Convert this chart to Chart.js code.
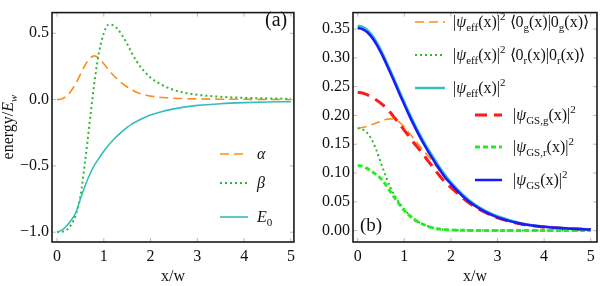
<!DOCTYPE html>
<html>
<head>
<meta charset="utf-8">
<script src="https://cdn.jsdelivr.net/npm/chart.js@4.4.1/dist/chart.umd.min.js"></script>
<style>
  body { margin: 0; background: #fff; }
  .wrap { display: flex; width: 600px; height: 286px; }
  canvas { display: block; }
</style>
</head>
<body>
<div class="wrap">
  <canvas id="chartA" width="300" height="286"></canvas>
  <canvas id="chartB" width="300" height="286"></canvas>
</div>
<script>
// x/w sample positions shared by every curve
const xs = [0, 0.1, 0.2, 0.3, 0.4, 0.5, 0.6, 0.7, 0.8, 0.9, 1.0, 1.1, 1.2, 1.3, 1.4, 1.5, 1.6, 1.7, 1.8, 1.9, 2.0,
  2.25, 2.5, 2.75, 3, 3.5, 4, 4.5, 5];

// panel (a): energy / E_w
const alphaVals = [0, 0.005, 0.025, 0.065, 0.12, 0.19, 0.26, 0.31, 0.33, 0.31, 0.27, 0.225, 0.185, 0.15, 0.12, 0.095,
  0.074, 0.055, 0.042, 0.033, 0.026, 0.016, 0.01, 0.007, 0.005, 0.003, 0.002, 0.001, 0.001];
const betaVals = [-1.0, -0.997, -0.985, -0.945, -0.87, -0.73, -0.47, -0.165, 0.13, 0.36, 0.5, 0.565, 0.56, 0.53, 0.48,
  0.42, 0.35, 0.29, 0.24, 0.2, 0.165, 0.11, 0.072, 0.05, 0.036, 0.021, 0.013, 0.009, 0.006];
const e0Vals = [-1.0, -0.985, -0.955, -0.91, -0.855, -0.75, -0.65, -0.565, -0.495, -0.44, -0.39, -0.345, -0.305, -0.27,
  -0.238, -0.21, -0.185, -0.165, -0.147, -0.131, -0.117, -0.09, -0.07, -0.055, -0.044, -0.031, -0.023, -0.018, -0.015];

// panel (b): densities
const effGVals = [0.178, 0.179, 0.181, 0.184, 0.187, 0.19, 0.193, 0.194, 0.193, 0.188, 0.18, 0.17, 0.16, 0.15, 0.14,
  0.131, 0.121, 0.11, 0.099, 0.089, 0.08, 0.059, 0.043, 0.031, 0.022, 0.012, 0.006, 0.0033, 0.0019];
const effRVals = [0.178, 0.176, 0.17, 0.158, 0.14, 0.117, 0.095, 0.075, 0.06, 0.047, 0.037, 0.028, 0.021, 0.015, 0.011,
  0.008, 0.005, 0.003, 0.002, 0.0015, 0.001, 0.0005, 0.0003, 0.0002, 0.0001, 0, 0, 0, 0];
const effVals = [0.356, 0.354, 0.349, 0.34, 0.328, 0.313, 0.296, 0.278, 0.26, 0.241, 0.223, 0.205, 0.188, 0.172, 0.157,
  0.143, 0.13, 0.117, 0.105, 0.094, 0.084, 0.063, 0.046, 0.034, 0.025, 0.013, 0.007, 0.004, 0.0025];
const gsGVals = [0.24, 0.239, 0.236, 0.232, 0.227, 0.221, 0.214, 0.205, 0.195, 0.185, 0.174, 0.164, 0.153, 0.143, 0.133,
  0.122, 0.112, 0.101, 0.091, 0.082, 0.075, 0.057, 0.042, 0.031, 0.022, 0.0115, 0.006, 0.0033, 0.0018];
const gsRVals = [0.113, 0.112, 0.108, 0.103, 0.097, 0.09, 0.08, 0.068, 0.056, 0.045, 0.035, 0.027, 0.02, 0.015, 0.011,
  0.0075, 0.005, 0.0033, 0.0022, 0.0015, 0.001, 0.0005, 0.0003, 0.0002, 0.0001, 0, 0, 0, 0];
const gsVals = [0.352, 0.35, 0.345, 0.336, 0.324, 0.309, 0.292, 0.274, 0.256, 0.237, 0.219, 0.201, 0.184, 0.168, 0.153,
  0.139, 0.126, 0.113, 0.101, 0.09, 0.081, 0.06, 0.044, 0.032, 0.023, 0.012, 0.0065, 0.0035, 0.002];

// tick labels
const xTicks = [0, 1, 2, 3, 4, 5];
const yTicksA = [-1.0, -0.5, 0.0, 0.5];
const yTicksB = [0, 0.05, 0.1, 0.15, 0.2, 0.25, 0.3, 0.35];

const SERIF = '"Liberation Serif", serif';
Chart.defaults.font.family = SERIF;
Chart.defaults.font.size = 16;
Chart.defaults.color = '#111';

const pts = (ys) => xs.map((x, i) => ({ x: x, y: ys[i] }));

// rich text: parts are [text, flags], flags: i = italic, _ = subscript, ^ = superscript
function partFont(f, size) {
  const small = f.includes('_') || f.includes('^');
  return (f.includes('i') ? 'italic ' : '') + Math.round(small ? size * 0.7 : size) + 'px ' + SERIF;
}
function richWidth(ctx, parts, size) {
  let w = 0;
  parts.forEach(([t, f = '']) => { ctx.font = partFont(f, size); w += ctx.measureText(t).width; });
  return w;
}
function drawRich(ctx, x, y, parts, size) {
  ctx.textBaseline = 'alphabetic';
  ctx.textAlign = 'left';
  parts.forEach(([t, f = '']) => {
    ctx.font = partFont(f, size);
    const dy = f.includes('_') ? size * 0.25 : f.includes('^') ? -size * 0.42 : 0;
    ctx.fillText(t, x, y + dy);
    x += ctx.measureText(t).width;
  });
}

const decor = {
  id: 'decor',
  afterDraw(chart, args, o) {
    const { ctx, chartArea: a, scales } = chart;
    const sx = scales.x, sy = scales.y;
    const seg = (x1, y1, x2, y2) => { ctx.beginPath(); ctx.moveTo(x1, y1); ctx.lineTo(x2, y2); ctx.stroke(); };
    ctx.save();
    // faint frame ticks
    ctx.strokeStyle = '#b8b8b8';
    ctx.lineWidth = 1;
    xTicks.forEach(v => {
      const p = sx.getPixelForValue(v);
      seg(p, a.bottom, p, a.bottom - 4);
      seg(p, a.top, p, a.top + 4);
    });
    o.yTicks.forEach(v => {
      const p = sy.getPixelForValue(v);
      seg(a.left, p, a.left + 4, p);
      seg(a.right, p, a.right - 4, p);
    });
    // frame
    ctx.strokeStyle = '#1a1a1a';
    ctx.lineWidth = 1.6;
    ctx.strokeRect(a.left, a.top, a.right - a.left, a.bottom - a.top);
    // legend
    ctx.fillStyle = '#111';
    o.legend.forEach(e => {
      const ds = chart.data.datasets[e.ds];
      ctx.strokeStyle = ds.borderColor;
      ctx.lineWidth = ds.borderWidth;
      ctx.setLineDash(ds.borderDash || []);
      seg(e.x1, e.y, e.x2, e.y);
      ctx.setLineDash([]);
      drawRich(ctx, e.tx, e.y + 5, e.parts, 16);
    });
    // panel tag
    drawRich(ctx, o.tag.x, o.tag.y, [[o.tag.text]], o.tag.size);
    // rotated y title
    if (o.yTitle) {
      ctx.translate(o.yTitle.x, o.yTitle.y);
      ctx.rotate(-Math.PI / 2);
      const w = richWidth(ctx, o.yTitle.parts, 16);
      drawRich(ctx, -w / 2, 0, o.yTitle.parts, 16);
    }
    ctx.restore();
  }
};

const line = (label, vals, color, width, dash, order) => ({
  label: label,
  data: pts(vals),
  borderColor: color,
  borderWidth: width,
  borderDash: dash,
  pointRadius: 0,
  fill: false,
  cubicInterpolationMode: 'monotone',
  order: order,
});

const tickFont = { family: SERIF, size: 16 };

const makeScales = (xMin, xMax, yMin, yMax, yTicks, yFmt, yWidth) => ({
  x: {
    type: 'linear', min: xMin, max: xMax,
    grid: { display: false, drawTicks: false },
    border: { display: false },
    afterBuildTicks: (s) => { s.ticks = xTicks.map(v => ({ value: v })); },
    afterFit: (s) => { s.height = 44; },
    ticks: { padding: 5, autoSkip: false, maxRotation: 0, font: tickFont, color: '#111', callback: (v) => String(v) },
    title: { display: true, text: 'x/w', font: tickFont, color: '#111', padding: { top: 0, bottom: 0 } },
  },
  y: {
    type: 'linear', min: yMin, max: yMax,
    grid: { display: false, drawTicks: false },
    border: { display: false },
    afterBuildTicks: (s) => { s.ticks = yTicks.map(v => ({ value: v })); },
    afterFit: (s) => { s.width = yWidth; },
    ticks: { padding: 3, autoSkip: false, font: tickFont, color: '#111', callback: yFmt },
  },
});

const psi = [['|'], ['ψ', 'i']];

new Chart(document.getElementById('chartA'), {
  type: 'line',
  data: {
    datasets: [
      line('α', alphaVals, '#FF8C1A', 1.6, [9, 5], 2),
      line('β', betaVals, '#2DB82D', 2, [2, 3], 1),
      line('E0', e0Vals, '#35BDBD', 1.6, [], 0),
    ],
  },
  options: {
    responsive: false,
    animation: false,
    layout: { padding: { top: 1, right: 6, left: 0, bottom: 0 } },
    scales: makeScales(-0.107, 5.064, -1.074, 0.656, yTicksA, (v) => v.toFixed(1).replace('-', '−'), 52),
    plugins: {
      legend: { display: false },
      tooltip: { enabled: false },
      decor: {
        yTicks: yTicksA,
        legend: [
          { ds: 0, x1: 220, x2: 248, y: 154, tx: 257, parts: [['α', 'i']] },
          { ds: 1, x1: 220, x2: 248, y: 183, tx: 257, parts: [['β', 'i']] },
          { ds: 2, x1: 220, x2: 248, y: 217, tx: 257, parts: [['E', 'i'], ['0', '_']] },
        ],
        tag: { text: '(a)', x: 265, y: 26, size: 20 },
        yTitle: { x: 13, y: 127, parts: [['energy/'], ['E', 'i'], ['w', 'i_']] },
      },
    },
  },
  plugins: [decor],
});

new Chart(document.getElementById('chartB'), {
  type: 'line',
  data: {
    datasets: [
      line('eff g', effGVals, '#FF8C1A', 1.6, [9, 5], 5),
      line('eff r', effRVals, '#2DB82D', 2, [2, 3], 4),
      line('eff', effVals, '#35BDBD', 2.5, [], 3),
      line('GS g', gsGVals, '#FF1A1A', 3, [12, 7], 2),
      line('GS r', gsRVals, '#22EE22', 3, [5, 3], 1),
      line('GS', gsVals, '#1A1AFF', 2.5, [], 0),
    ],
  },
  options: {
    responsive: false,
    animation: false,
    layout: { padding: { top: 1, right: 3, left: 0, bottom: 0 } },
    scales: makeScales(-0.101, 5.135, -0.0198, 0.3786, yTicksB, (v) => v.toFixed(2), 53),
    plugins: {
      legend: { display: false },
      tooltip: { enabled: false },
      decor: {
        yTicks: yTicksB,
        legend: [
          { ds: 0, x1: 115, x2: 145, y: 22, tx: 153,
            parts: psi.concat([['eff', '_'], ['(x)|'], ['2', '^'], [' ⟨0'], ['g', '_'], ['(x)|0'], ['g', '_'], ['(x)⟩']]) },
          { ds: 1, x1: 115, x2: 145, y: 55, tx: 153,
            parts: psi.concat([['eff', '_'], ['(x)|'], ['2', '^'], [' ⟨0'], ['r', '_'], ['(x)|0'], ['r', '_'], ['(x)⟩']]) },
          { ds: 2, x1: 115, x2: 145, y: 88, tx: 153, parts: psi.concat([['eff', '_'], ['(x)|'], ['2', '^']]) },
          { ds: 3, x1: 175, x2: 202, y: 115, tx: 213, parts: psi.concat([['GS,g', '_'], ['(x)|'], ['2', '^']]) },
          { ds: 4, x1: 175, x2: 202, y: 147, tx: 213, parts: psi.concat([['GS,r', '_'], ['(x)|'], ['2', '^']]) },
          { ds: 5, x1: 175, x2: 202, y: 180, tx: 213, parts: psi.concat([['GS', '_'], ['(x)|'], ['2', '^']]) },
        ],
        tag: { text: '(b)', x: 60, y: 231, size: 19 },
      },
    },
  },
  plugins: [decor],
});
</script>
</body>
</html>
